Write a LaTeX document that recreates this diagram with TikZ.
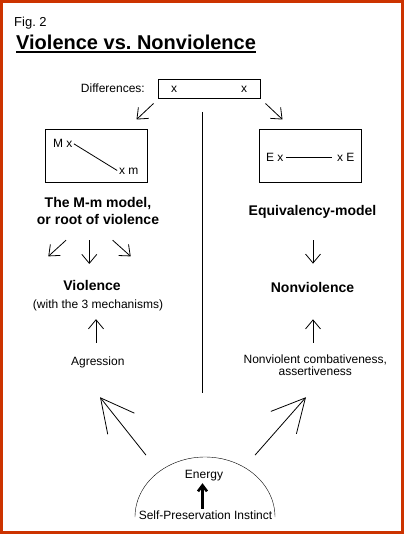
\documentclass[tikz,border=0pt]{standalone}
\usepackage{fontspec}
\setmainfont{Liberation Sans}
\usepackage{xcolor}
\usetikzlibrary{arrows.meta,calc}
\definecolor{framered}{RGB}{204,51,0}
\frenchspacing

\begin{document}
\begin{tikzpicture}[x=1pt, y=-1pt,
  txt/.style={inner sep=0pt, font=\fontsize{12}{12}\selectfont},
  headtxt/.style={inner sep=0pt, font=\fontsize{14}{17}\selectfont\bfseries, align=center},
  modelbox/.style={draw, line width=1pt, minimum width=102pt, minimum height=53pt},
  arr/.style={-{Straight Barb[length=9pt,width=15pt]}, line width=0.8pt},
  bigarr/.style={-{Straight Barb[length=33pt,width=34pt]}, line width=0.8pt},
  boldarr/.style={-{Straight Barb[length=6pt,width=9pt]}, line width=2.6pt}
]
\fill[white] (0,0) rectangle (404,534);
\useasboundingbox (0,0) rectangle (404,534);
\draw[framered, line width=3pt] (1.5,1.5) rectangle (402.5,532.5);

\node[inner sep=0pt, anchor=base west, font=\fontsize{13}{15}\selectfont] (fig) at (14,27) {Fig. 2};
\node[inner sep=0pt, anchor=base west, font=\fontsize{20}{24}\selectfont\bfseries] (title) at (16,50) {Violence vs. Nonviolence};
\draw[line width=2pt] ([yshift=-2.3pt]title.base west) -- ([yshift=-2.3pt]title.base east);

\node[txt, anchor=base east] (difflab) at (145,93) {Differences:};
\node[txt, draw, line width=1pt, minimum width=102pt, minimum height=19pt] (diff) at (209,89.5) {x\hspace{64pt}x};

\node[modelbox] (mmbox) at (96,156.5) {};
\node[txt] (mM) at (62.7,143) {M x};
\node[txt] (mm) at (128.7,171.5) {x m};
\draw[line width=0.8pt, shorten <=1.6pt, shorten >=2pt] (mM.east) -- (mm.west);

\node[modelbox] (ebox) at (310.5,156.5) {};
\node[txt] (eE) at (274.7,157) {E x};
\node[txt] (xE) at (345.7,157) {x E};
\draw[line width=0.8pt, shorten <=2.6pt, shorten >=5.3pt] (eE.east) -- (xE.west);

\draw[line width=1pt] (202,112) -- (202,393);

\node[headtxt] (mmlab) at (98,211.4) {The M-m model,\\or root of violence};
\node[headtxt, anchor=base] (eqlab) at (312.5,215) {Equivalency-model};
\node[headtxt, anchor=base] (viol) at (92,290) {Violence};
\node[txt, anchor=base] (mech) at (98,308.3) {(with the 3 mechanisms)};
\node[headtxt, anchor=base] (nonviol) at (312.5,292.5) {Nonviolence};
\node[txt, anchor=base] (agr) at (97.8,365) {Agression};
\node[txt, align=center, font=\fontsize{12}{12}\selectfont] (nvc) at (315.3,365.6) {Nonviolent combativeness,\\assertiveness};

\draw (135,517) arc[start angle=180, end angle=360, x radius=70, y radius=60];
\node[txt, anchor=base] (energy) at (204,478) {Energy};
\node[txt, anchor=base] (spi) at (205.5,519.5) {Self-Preservation Instinct};

\draw[arr] ($(diff.south west)+(-4,4)$) -- ($(mmbox.north east)+(-11,-10)$);
\draw[arr] ($(diff.south east)+(5,4)$) -- ($(ebox.north west)+(23.5,-10)$);
\draw[arr] ($(mmlab.south)+(-32,15)$) -- ($(viol.north)+(-43.7,-23.3)$);
\draw[arr] ($(mmlab.south)+(-8.7,15)$) -- ($(viol.north)+(-2.7,-15.7)$);
\draw[arr] ($(mmlab.south)+(14.7,15)$) -- ($(viol.north)+(38.7,-23.3)$);
\draw[arr] ($(eqlab.south)+(0.5,22.1)$) -- ($(nonviol.north)+(0.5,-18.5)$);
\draw[arr] ($(agr.north)+(-1.8,-13.4)$) -- ($(mech.south)+(-2,8.2)$);
\draw[arr] ($(nvc.north)+(-2.3,-12.2)$) -- ($(nonviol.south)+(0.5,26.5)$);
\draw[bigarr] ($(energy.north)+(-58,-14.4)$) -- ($(agr.south)+(2.2,29.5)$);
\draw[bigarr] ($(energy.north)+(51,-14.4)$) -- ($(nvc.south)+(-9.3,21)$);
\draw[boldarr] ($(spi.north)+(-3,-1.7)$) -- ($(energy.south)+(-1.5,2.5)$);
\end{tikzpicture}
\end{document}
